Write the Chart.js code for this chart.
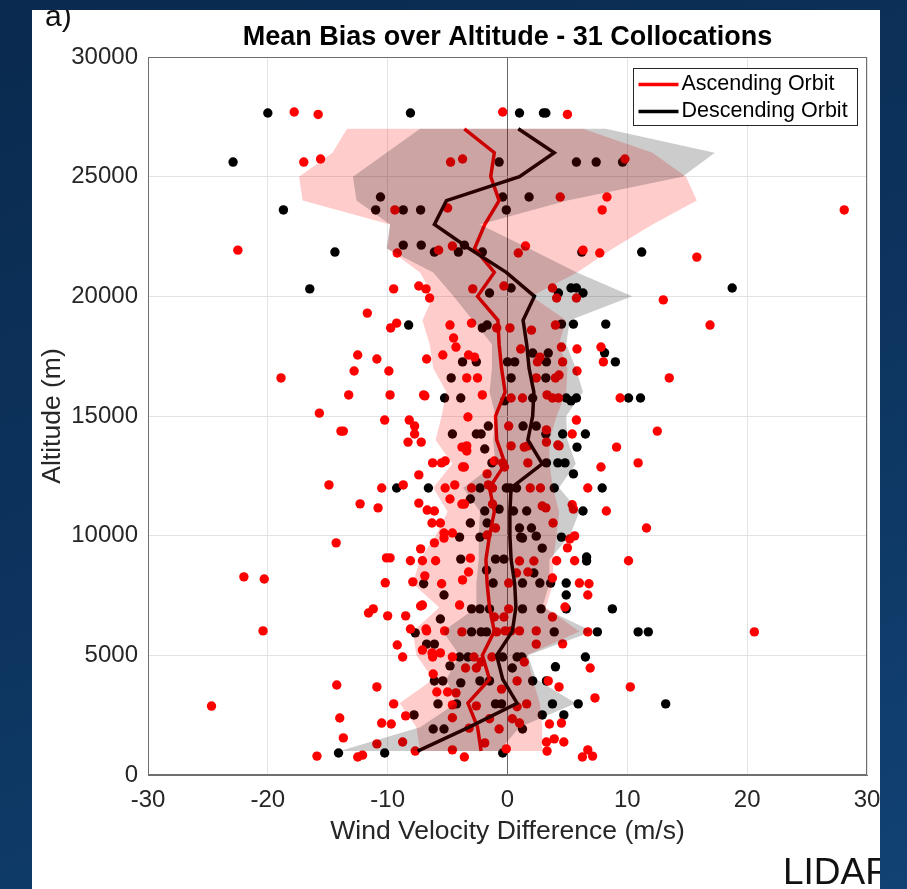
<!DOCTYPE html>
<html>
<head>
<meta charset="utf-8">
<script src="https://cdn.jsdelivr.net/npm/chart.js@4"></script>
<style>
html,body{margin:0;padding:0;}
body{width:907px;height:889px;overflow:hidden;position:relative;
  background:linear-gradient(160deg,#0a2a4e 0%,#0d3560 55%,#114274 100%);
  font-family:'Liberation Sans',Arial,sans-serif;}
#panel{position:absolute;left:32px;top:10px;width:848px;height:879px;background:#fff;overflow:hidden;}
#c{position:absolute;left:0;top:0;}
#tag{position:absolute;left:13px;top:-9px;font-size:30px;line-height:1;color:#111;}
#lidar{position:absolute;left:751px;top:843px;font-size:37px;line-height:1;color:#111;white-space:nowrap;}
</style>
</head>
<body>
<div id="panel">
  <canvas id="c" width="848" height="879"></canvas>
  <div id="tag">a)</div>
  <div id="lidar">LIDAR</div>
</div>
<script>
// altitude levels of the mean profiles (m)
const levels = [1000,2000,3000,4000,5000,6000,7000,8000,9000,10000,11000,12000,13000,14000,
  15000,16000,17000,18000,19000,20000,21000,22000,23000,24000,25000,26000,27000];

// mean bias per level (m/s)
const ascMean  = [-2.2,-2.5,-3.3,-1.5,-2.1,-1.1,-1.5,-1.7,-1.8,-1.5,-1.1,-1.5,-0.2,-0.9,
  -1.0,-0.2,-0.5,-0.7,-0.8,-2.5,-1.1,-2.75,-1.9,-0.7,-1.4,-1.1,-3.6];
const descMean = [-7.5,-3.2,0.8,-0.4,-0.9,0.4,0.7,0.6,0.3,0.2,0.2,0.3,2.9,1.7,
  2.1,2.2,1.8,1.6,1.3,2.25,-0.1,-3.2,-6.1,-5.1,1.0,3.9,0.9];

// spread bands per level (m/s)
const ascLow   = [-7.3,-7.6,-9.0,-6.2,-7.6,-7.9,-5.7,-7.9,-7.3,-6.0,-5.0,-6.2,-4.6,-6.0,
  -5.5,-5.1,-6.2,-6.5,-7.1,-6.2,-7.3,-10.0,-9.8,-17.1,-17.4,-14.6,-13.4];
const ascHigh  = [2.9,2.9,2.7,2.1,1.6,6.0,3.2,3.8,3.8,4.1,4.3,3.8,3.5,3.5,
  4.1,4.9,5.0,4.3,4.9,2.0,5.8,8.8,12.1,15.8,14.9,12.1,6.3];
const descLow  = [-14.0,-7.3,-4.3,-5.1,-4.0,-5.4,-2.6,-2.6,-2.4,-2.4,-2.3,-3.7,-1.0,-1.2,
  -1.0,-1.5,-1.3,-1.3,-2.9,-4.5,-6.2,-10.1,-9.8,-12.6,-12.9,-10.1,-7.3];
const descHigh = [-0.7,1.0,5.7,2.4,1.7,7.1,2.9,3.5,3.5,5.2,6.0,4.3,5.7,5.0,
  4.9,6.3,5.7,4.9,5.2,10.4,5.8,1.8,-2.3,5.0,14.6,17.3,8.2];

// individual collocation differences [m/s, altitude m]
const ascPoints = [
  [-17.8,27700],[-15.8,27600],[-0.4,27700],[5.0,27600],
  [-17.0,25610],[-15.6,25740],[-4.75,25610],[-3.75,25740],[9.8,25740],
  [4.4,24150],[8.3,24150],
  [-9.4,23610],[-5.0,23690],[7.9,23610],[28.1,23610],
  [-22.5,21930],[-9.2,21810],[-5.75,21930],[-4.6,22100],[0.9,21810],[1.5,22100],[6.3,21930],[7.7,21810],[15.8,21640],
  [-9.5,20310],[-7.4,20430],[-6.8,20310],[-6.5,19930],[-2.9,20310],[-0.3,20430],[3.75,20350],[5.75,19930],[4.1,19930],[13.0,19850],
  [-11.7,19300],
  [-9.25,18880],[-9.75,18680],[-4.8,18800],[-3.0,18880],[-0.9,18680],[0.2,18680],[2.0,18590],[4.0,18800],[16.9,18800],
  [-12.5,17550],[-10.9,17380],[-6.75,17380],[-5.4,17550],[-4.5,18260],[-4.3,17880],[-3.25,17550],[-2.75,17460],
  [1.1,17800],[2.5,17260],[4.6,17260],[7.8,17880],[8.0,17260],[5.8,17800],[2.7,17460],[4.5,17880],
  [-12.8,16880],[-9.9,16880],[5.8,16880],[-3.4,16590],[-2.5,16590],[2.4,16590],[4.0,16590],[4.3,16710],[-18.9,16590],[13.5,16590],
  [-13.25,15880],[-9.8,15880],[-7.0,15880],[-6.9,15840],[-2.1,15880],[0.3,15750],[1.25,15750],[3.3,15880],[3.75,15750],[4.25,15750],[9.4,15750],
  [-15.7,15120],[-10.25,14830],[-8.2,14830],[-7.75,14580],[-7.75,14250],[-8.3,13910],[-7.2,13910],[-3.3,14960],
  [0.1,14580],[5.75,14830],[3.25,14420],[5.4,14250],[12.5,14370],[-13.9,14370],[-13.7,14370],
  [-3.8,13700],[-3.4,13540],[-3.4,13750],[1.4,13700],[3.25,13910],[4.3,13750],[9.1,13700],[0.3,13750],[1.7,13750],[4.2,13790],
  [10.9,13040],[-6.25,13040],[-5.5,13040],[-5.2,13120],[-3.6,12870],[-1.1,13120],[-0.4,13040],[1.7,13040],[7.8,12870],[-3.75,12870],[-0.25,12870],
  [-1.7,12580],[-7.4,12540],
  [-14.9,12120],[-10.5,11990],[-8.7,12120],[-5.2,11990],[-4.4,12120],[-3.0,11990],[-1.6,12120],[-1.25,11990],[1.9,11990],[2.75,11990],[6.7,11990],
  [-12.3,11330],[-10.8,11160],[-7.4,11360],[-4.8,11530],[-3.8,11320],[-3.6,11320],[-6.7,11070],[-6.1,11030],[-1.25,11320],
  [3.2,11160],[5.5,11110],[8.25,11030],[2.9,11240],[5.4,11290],
  [-6.3,10530],[-5.6,10530],[-5.3,10110],[-4.6,10110],[-1.7,10030],[-1.0,10320],[3.8,10530],[5.2,9860],[11.6,10320],
  [-14.3,9700],[-7.25,9450],[-6.1,9700],[-5.3,9900],[5.6,9990],[5.0,9490],
  [-10.1,9070],[-9.8,9070],[-8.1,8950],[-7.1,8950],[-6.0,8950],[10.1,8950],[5.6,8950],[4.1,8950],[-3.1,9060],[1.0,8940],[2.2,8940],
  [-22.0,8280],[-20.3,8190],[-10.2,8030],[-7.9,8070],[-6.9,8320],[-5.5,7990],[6.0,8020],[6.8,7990],[6.7,7520],
  [-3.75,8150],[-3.25,8480],[0.1,8020],[0.75,8440],[1.7,8480],[3.75,8230],
  [-11.6,6770],[-11.2,6940],[-10.0,6650],[-8.5,6650],[-7.25,7060],[-7.1,7100],[-4.0,7100],[-1.1,6600],[-0.3,6600],[0.1,6940],[3.75,6600],[4.8,7020],
  [-20.4,6020],[-8.1,6100],[-6.8,6100],[6.7,5980],[4.6,5480],[20.6,5980],[-6.75,6020],[-5.25,6020],[-3.8,5980],
  [-0.9,5980],[-0.2,6020],[0.3,6020],[1.0,6020],[2.4,6020],[2.4,5470],
  [-9.2,5430],[-7.1,5220],[-6.3,5100],[-6.25,4930],[-5.6,5100],[-8.75,4930],[-4.6,4930],[-2.8,4930],[-2.2,4720],[-1.3,4930],[1.4,4720],[6.9,4470],
  [-6.2,4220],[-10.9,3680],[-14.25,3760],[10.25,3680],[4.3,3680],[-5.0,3470],[-3.5,4470],[-2.6,4470],[-0.5,3590],[0.8,3930],[3.4,3930],
  [-24.7,2880],[-9.5,2970],[-5.9,3470],[-4.6,2930],[-4.3,3430],[7.3,3220],[-2.6,2890],[0.8,2850],[1.6,2970],
  [-14.0,2380],[-8.5,2470],[-10.5,2170],[-9.7,2130],[3.5,2130],[4.5,2170],[1.0,2170],[-0.7,1920],[-4.6,2390],[-3.2,1960],[-1.5,2350],[0.4,2350],
  [-13.7,1550],[-8.75,1380],[-10.9,1300],[3.25,1380],[3.9,1510],[4.7,1380],[-1.9,1340],
  [-15.9,790],[-12.5,750],[-12.1,830],[-7.7,1000],[-4.6,1050],[-3.6,750],[-0.1,1090],[3.3,1000],[6.7,1050],[7.1,790],[6.25,750]
];
const descPoints = [
  [-20.0,27660],[-8.1,27660],[1.0,27660],[3.0,27660],[3.2,27660],
  [-22.9,25610],[-0.7,25610],[5.75,25610],[7.4,25610],[9.6,25610],
  [-10.6,24150],[-0.4,24150],[1.8,24150],
  [-18.7,23610],[-11.0,23610],[-8.7,23610],[-7.25,23610],[-0.1,23610],
  [-14.4,21850],[-8.7,22140],[-7.2,22140],[-6.1,21850],[-4.1,21850],[-3.6,22140],[-2.1,21850],[6.2,21850],[11.2,21850],
  [-16.5,20310],[-1.5,20140],[0.3,20350],[4.25,20140],[5.3,20350],[5.75,20350],[6.3,20140],[18.75,20350],
  [-8.25,18800],[-1.7,18800],[-2.1,18680],[4.5,18840],[5.5,18840],[8.2,18840],
  [-3.75,17260],[-2.6,17260],[0.0,17260],[0.6,17260],[2.1,17630],[3.25,17260],[3.4,17630],[8.1,17640],[9.0,17260],
  [-4.7,16590],[0.3,16590],[3.2,16590],
  [-5.25,15750],[-3.9,15750],[-0.25,15630],[2.1,15750],[4.9,15750],[5.3,15630],[5.75,15750],[10.1,15750],[11.1,15750],
  [-1.6,14580],[-4.6,14250],[-2.6,14250],[-2.2,14250],[1.3,14580],[2.4,14580],[3.2,14250],[4.6,14250],[6.5,14250],
  [-1.9,13620],[5.8,13700],
  [-1.3,13040],[3.25,13040],[4.2,13040],[4.8,13040],[5.5,12580],
  [-9.25,11990],[-6.6,11990],[-2.3,11990],[-0.1,11990],[0.2,11990],[0.75,11990],[3.9,11990],[7.9,11990],
  [-3.1,11530],[-1.9,11030],[-0.7,11110],[0.5,11030],[1.6,11030],[6.3,11030],
  [-3.1,10530],[-1.7,10530],[-4.0,9940],[-2.3,9940],[1.1,9940],[2.4,9980],[4.5,9940],[1.0,10320],[2.0,10320],[1.25,9900],[2.9,9480],[6.6,9110],
  [-3.9,9020],[-1.0,9020],[-0.3,9020],[6.6,8940],
  [-7.0,7990],[-5.3,7520],[-1.75,8560],[-1.2,8020],[1.25,8020],[2.2,8440],[2.7,8020],[3.6,8020],[4.9,8020],[4.9,7520],
  [-5.6,6520],[-3.0,6940],[-2.3,6940],[-1.5,6940],[1.25,6940],[2.8,6940],[4.9,6940],[8.75,6940],
  [-7.7,5940],[10.9,5980],[11.75,5980],[7.5,5980],[3.9,5980],[-3.0,5980],[-2.2,5980],[-1.75,5980],
  [-6.75,5470],[-6.1,5470],[-4.0,4930],[-3.3,4930],[-0.4,4930],[0.8,4930],[1.2,4930],[6.5,4930],[4.0,4520],[0.4,4470],
  [-6.1,3930],[-5.4,3930],[-4.8,4560],[-3.9,3850],[-2.3,3930],[-1.5,3930],[2.1,3930],[3.25,3930],
  [-5.8,2970],[-4.25,2970],[-1.0,2970],[-0.5,2970],[3.75,2970],[5.9,2970],[13.2,2970],
  [-7.8,2510],[2.9,2510],[4.7,2510],
  [-6.2,1920],[-5.3,1920],[1.25,1920],
  [-14.1,920],[-10.25,920],[-0.4,920]
];

const xTicks = [-30,-20,-10,0,10,20,30];
const yTicks = [0,5000,10000,15000,20000,25000,30000];
const legendLabels = ['Ascending Orbit','Descending Orbit'];
const titleText = 'Mean Bias over Altitude - 31 Collocations';

const FONT = "'Liberation Sans', Arial, sans-serif";
const toXY = p => ({x: p[0], y: p[1]});
const profile = m => m.map((v,i) => ({x: v, y: levels[i]}));
const band = (lo, hi) => {
  const pts = lo.map((v,i) => ({x: v, y: levels[i]}));
  for (let i = hi.length - 1; i >= 0; i--) pts.push({x: hi[i], y: levels[i]});
  pts.push(pts[0]);
  return pts;
};

const frame = {
  id: 'frame',
  afterDatasetsDraw(chart){
    const {ctx, chartArea:a} = chart;
    ctx.save();
    ctx.strokeStyle = '#6e6e6e'; ctx.lineWidth = 1;
    ctx.strokeRect(Math.round(a.left)+0.5, Math.round(a.top)+0.5, Math.round(a.right-a.left)-1, Math.round(a.bottom-a.top)-1);
    ctx.restore();
  },
  afterDraw(chart){
    const {ctx, chartArea:a} = chart;
    ctx.save();
    // title, centred over the axes like the original
    ctx.font = 'bold 27px ' + FONT; ctx.fillStyle = '#000';
    ctx.textAlign = 'center'; ctx.textBaseline = 'middle';
    ctx.fillText(titleText, (a.left + a.right) / 2, a.top - 19);
    // legend box
    const w = 224, h = 57;
    const L = Math.round(a.right) - 10 - w + 0.5, T = Math.round(a.top) + 11 + 0.5;
    ctx.fillStyle = '#fff'; ctx.fillRect(L, T, w, h);
    ctx.strokeStyle = '#262626'; ctx.lineWidth = 1; ctx.strokeRect(L, T, w, h);
    const cols = ['#ff0000', '#000000'];
    ctx.font = '21.5px ' + FONT; ctx.textAlign = 'left'; ctx.fillStyle = '#000';
    legendLabels.forEach((t,i) => {
      const y = T + 16 + i*27;
      ctx.strokeStyle = cols[i]; ctx.lineWidth = 3.5;
      ctx.beginPath(); ctx.moveTo(L+5, y); ctx.lineTo(L+45, y); ctx.stroke();
      ctx.fillText(t, L+48, y);
    });
    ctx.restore();
  }
};

new Chart(document.getElementById('c'), {
  type: 'scatter',
  data: { datasets: [
    { label: 'desc pts', data: descPoints.map(toXY), backgroundColor: '#000', borderWidth: 0, pointRadius: 4.7, order: 7 },
    { label: 'asc pts', data: ascPoints.map(toXY), backgroundColor: '#ff0000', borderWidth: 0, pointRadius: 4.7, order: 6 },
    { label: legendLabels[0], data: profile(ascMean), showLine: true, borderColor: '#ff0000', borderWidth: 3.5, pointRadius: 0, order: 5 },
    { label: legendLabels[1], data: profile(descMean), showLine: true, borderColor: '#000', borderWidth: 3.5, pointRadius: 0, order: 4 },
    { label: 'asc band', data: band(ascLow, ascHigh), showLine: true, borderWidth: 0, pointRadius: 0, fill: 'shape', backgroundColor: 'rgba(255,0,0,0.2)', order: 3 },
    { label: 'desc band', data: band(descLow, descHigh), showLine: true, borderWidth: 0, pointRadius: 0, fill: 'shape', backgroundColor: 'rgba(0,0,0,0.2)', order: 2 }
  ]},
  options: {
    responsive: false, animation: false, devicePixelRatio: 1,
    layout: { padding: { left: 5, right: 13, top: 47, bottom: 41 } },
    plugins: {
      legend: { display: false }, tooltip: { enabled: false }, title: { display: false }
    },
    scales: {
      x: { min: -30, max: 30,
        afterBuildTicks: s => { s.ticks = xTicks.map(v => ({value: v})); },
        ticks: { padding: 11, color: '#262626', font: { family: FONT, size: 24 }, maxRotation: 0, callback: v => String(v) },
        grid: { drawTicks: false, color: c => c.tick && c.tick.value === 0 ? '#6a6a6a' : '#e3e3e3' },
        border: { color: '#6e6e6e' },
        title: { display: true, text: 'Wind Velocity Difference (m/s)', color: '#262626', font: { family: FONT, size: 26.5 }, padding: 0 },
        afterFit: s => { s.height = 73; s.paddingLeft = 0; s.paddingRight = 0; } },
      y: { min: 0, max: 30000,
        afterBuildTicks: s => { s.ticks = yTicks.map(v => ({value: v})); },
        ticks: { padding: 10, color: '#262626', font: { family: FONT, size: 24 }, callback: v => String(v) },
        grid: { drawTicks: false, color: '#e3e3e3' },
        border: { color: '#6e6e6e' },
        title: { display: true, text: 'Altitude (m)', color: '#262626', font: { family: FONT, size: 26.5 }, padding: 0 },
        afterFit: s => { s.width = 111; } }
    }
  },
  plugins: [frame]
});
</script>
</body>
</html>
